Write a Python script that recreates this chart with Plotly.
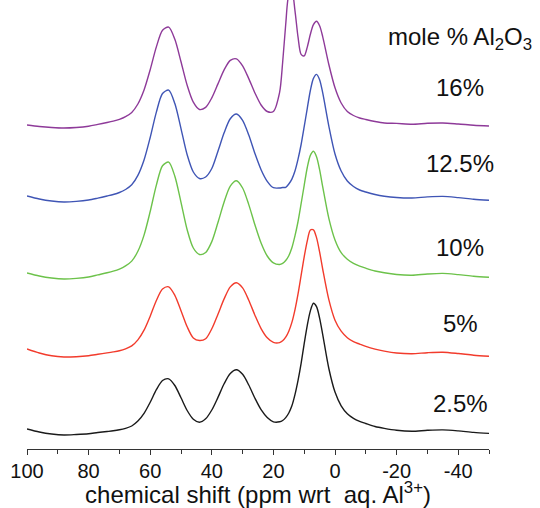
import plotly.graph_objects as go

# chemical shift grid (ppm)
ppm = [100, 96, 92, 88, 84, 80, 77, 74, 72, 70,
       68, 66, 64, 62, 60, 58, 56, 54, 52, 50,
       48, 46, 44, 42, 40, 38, 36, 34, 32, 30,
       28, 26, 24, 22, 20, 18, 17, 16, 15, 14,
       13, 12, 11, 10, 9, 8, 7, 6, 5, 4,
       2, 0, -2, -4, -6, -8, -10, -13, -16, -20,
       -25, -30, -35, -40, -45, -50]

# stacked spectra (arbitrary intensity, vertical offset as drawn)
s_2_5 = [24, 21, 19, 18, 18.5, 19.3, 20.5, 21.5, 22.2, 23.2,
         24.7, 27, 31.9, 39.6, 50.7, 63.3, 72.5, 74.2, 67.5, 55.2,
         42.5, 33.8, 30.8, 34.2, 43, 55.6, 69.2, 79.5, 83.2, 78.7,
         68, 54.8, 43.3, 35.5, 31.2, 31.2, 32.5, 35.4, 40, 47.2,
         58.4, 72.7, 89.7, 109.4, 127.7, 142.1, 149.7, 146.3, 134.9, 118.6,
         84.5, 60.9, 47.2, 39.3, 34.7, 31.7, 29.5, 26.5, 24.6, 22.7,
         21.8, 22.7, 23.1, 22.1, 20.6, 19.6]
s_5 = [104, 100, 97.2, 96, 96.3, 97.3, 98.7, 100.1, 101.1, 102.3,
       104.2, 107.1, 113.1, 122.8, 136.8, 152.5, 164, 166.2, 157.7, 142.3,
       126.2, 115, 112.5, 114.2, 124.2, 138.8, 154.1, 166.1, 170.3, 165.1,
       152.8, 137.8, 124.4, 115.2, 110.6, 110.4, 112.2, 115.8, 121.8, 130.6,
       143.2, 159.1, 177.6, 196.2, 212.2, 223, 223.2, 215.4, 201.1, 184,
       153.3, 132.8, 121.8, 115.3, 111.3, 108.9, 106.6, 103.9, 101.9, 100,
       99.2, 100.3, 100.8, 99.5, 97.8, 96.7]
s_10 = [180, 177, 175, 174, 174.6, 176, 178.1, 180.2, 181.8, 183.9,
        187.1, 191.9, 201.7, 217.9, 241.5, 267.9, 287.3, 290.9, 276.8, 250.7,
        223.3, 205, 198.5, 200.5, 211.4, 230.5, 251, 266.9, 272.2, 265,
        248.4, 228.2, 210, 197, 190.1, 188.5, 189.6, 192.5, 197.3, 205.2,
        217.1, 231.5, 249.3, 267.7, 285.5, 297.6, 301.7, 296.3, 283.3, 266.4,
        234.7, 213.1, 200.4, 193.8, 189.7, 186.9, 184.8, 182, 180.2, 178.5,
        177.8, 179, 179.6, 178.4, 176.8, 175.7]
s_12_5 = [257, 254, 252, 251, 251.6, 253, 254.9, 257, 258.5, 260.5,
          263.5, 268.2, 277.6, 293, 315.5, 340.9, 359.5, 362.9, 349.4, 324.4,
          298.2, 281, 274.5, 276, 284.5, 301.8, 320.2, 334.3, 339, 332.7,
          317.9, 299.5, 283.3, 271.7, 265.3, 265, 265.5, 265.7, 269, 273.9,
          282, 293.9, 308.5, 326.3, 344.7, 362.5, 374.6, 378.6, 373.3, 360.3,
          326.9, 299, 282, 272, 266.5, 263, 261, 258.5, 256.8, 255.5,
          255, 256.1, 256.6, 255.4, 253.8, 252.7]
s_16 = [328, 326.5, 325.5, 325, 325.5, 326.8, 328.6, 330.5, 331.9, 333.7,
        336.4, 340.6, 349, 363, 383.3, 406.1, 422.8, 425.9, 413.7, 391.2,
        367.7, 350.8, 343.5, 345.6, 355.1, 369.1, 383.1, 392.6, 394.2, 387.2,
        374.4, 360, 348, 341.5, 341.5, 360.4, 390.5, 428.7, 458.2, 462.4,
        442.4, 415.8, 398.6, 397.1, 405.9, 418.7, 428.3, 431.7, 427.2, 416.4,
        388.5, 365.2, 350, 341.5, 337.5, 335, 333.5, 331.5, 330, 329.6,
        328.8, 329.7, 330, 329, 327.8, 327]

series = [s_2_5, s_5, s_10, s_12_5, s_16]
labels = ["2.5%", "5%", "10%", "12.5%", "16%"]
colors = ["#1a1a1a", "#f23b2c", "#6cc24a", "#3f55b5", "#8e3a99"]

xticks = [100, 80, 60, 40, 20, 0, -20, -40]

FONT = "Liberation Sans, Arial, sans-serif"

fig = go.Figure()
for ys, name, col in zip(series, labels, colors):
    fig.add_trace(go.Scatter(x=ppm, y=ys, mode="lines", name=name,
                             line=dict(color=col, width=1.4, shape="spline", smoothing=0.8),
                             showlegend=False, hoverinfo="skip"))

label_y = [50, 130, 206, 290, 366]
for name, yv in zip(labels, label_y):
    fig.add_annotation(x=-40.6, y=yv, xref="x", yref="y", text=name, showarrow=False,
                       font=dict(size=24, color="#111", family=FONT))
fig.add_annotation(x=-40.6, y=415, xref="x", yref="y",
                   text="mole % Al<sub>2</sub>O<sub>3</sub>", showarrow=False,
                   font=dict(size=24, color="#111", family=FONT))

fig.update_layout(
    width=540, height=508,
    margin=dict(l=27, r=51, t=0, b=59),
    paper_bgcolor="white", plot_bgcolor="white",
    font=dict(family=FONT, color="#111"),
    xaxis=dict(range=[100, -50], tickvals=xticks, ticktext=[str(t) for t in xticks],
               ticks="outside", ticklen=5, tickwidth=1, tickcolor="#333",
               minor=dict(dtick=10, tick0=0, ticks="outside", ticklen=4, tickcolor="#333"),
               showline=True, linecolor="#333", linewidth=1, showgrid=False, zeroline=False,
               tickfont=dict(size=20, family=FONT, color="#111"), ticklabelstandoff=-1,
               title=dict(text="chemical shift (ppm wrt&nbsp; aq. Al<sup>3+</sup>)",
                          font=dict(size=24, family=FONT, color="#111"), standoff=3)),
    yaxis=dict(range=[4, 453], visible=False),
)

fig.write_html("out.html")
